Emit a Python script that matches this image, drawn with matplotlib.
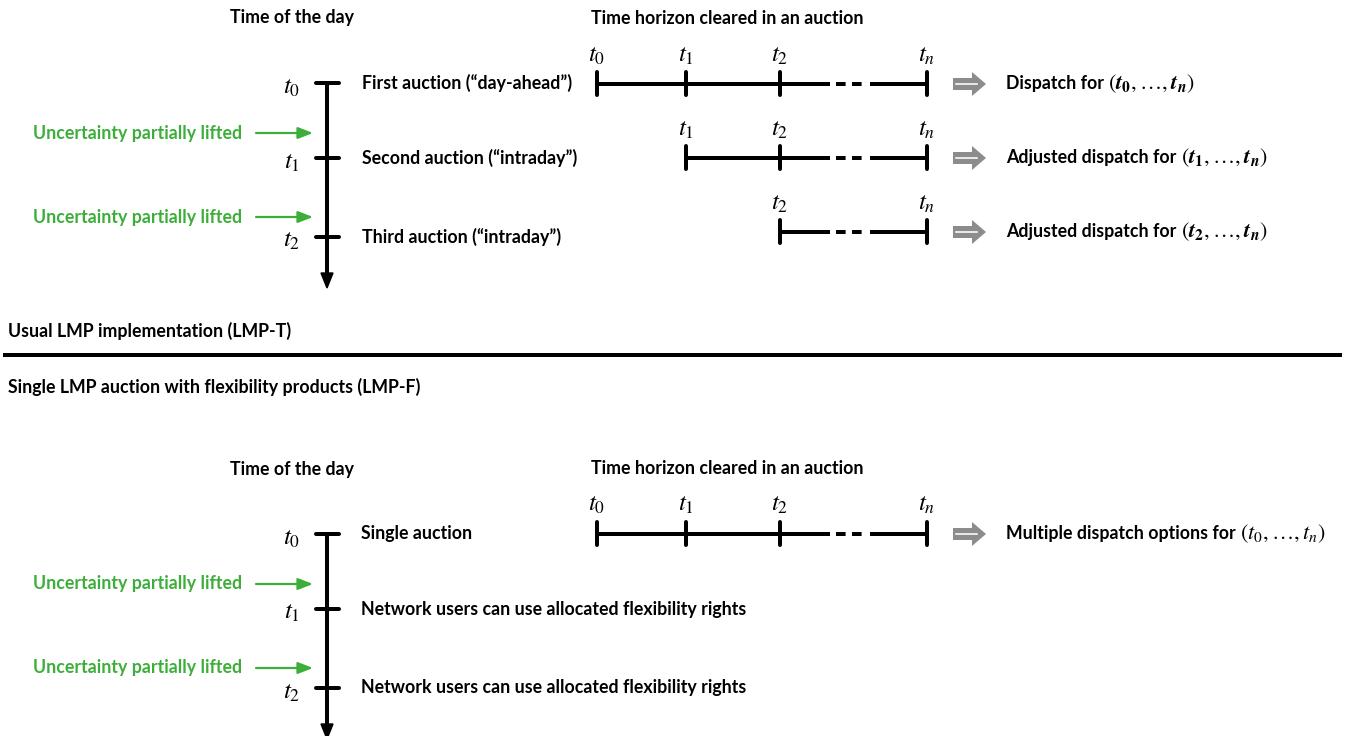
import matplotlib
matplotlib.use("Agg")
import matplotlib.pyplot as plt
from matplotlib.patches import Polygon

plt.rcParams["font.family"] = ["Lato", "DejaVu Sans"]
plt.rcParams["mathtext.fontset"] = "stix"

# Textos e rótulos do diagrama
cabecalho_dia = "Time of the day"
cabecalho_horizonte = "Time horizon cleared in an auction"
incerteza = "Uncertainty partially lifted"
rotulos_t = ["$t_0$", "$t_1$", "$t_2$"]
rotulos_barra = ["$t_0$", "$t_1$", "$t_2$", "$t_n$"]

leiloes_t = ["First auction (\u201cday-ahead\u201d)",
             "Second auction (\u201cintraday\u201d)",
             "Third auction (\u201cintraday\u201d)"]
inicio_t = [0, 1, 2]
despacho_t = ["Dispatch for", "Adjusted dispatch for", "Adjusted dispatch for"]
despacho_mat_t = [r"$(\mathbfit{t}_{\mathbf{0}},\ldots,\mathbfit{t}_{\mathbfit{n}})$",
                  r"$(\mathbfit{t}_{\mathbf{1}},\ldots,\mathbfit{t}_{\mathbfit{n}})$",
                  r"$(\mathbfit{t}_{\mathbf{2}},\ldots,\mathbfit{t}_{\mathbfit{n}})$"]

leiloes_f = ["Single auction",
             "Network users can use allocated flexibility rights",
             "Network users can use allocated flexibility rights"]
despacho_f = "Multiple dispatch options for"
despacho_mat_f = r"$(t_0,\ldots,t_n)$"

titulo_t = "Usual LMP implementation (LMP-T)"
titulo_f = "Single LMP auction with flexibility products (LMP-F)"

# Layout (pixels)
W, H = 1347, 736
x_linha = 327
y_ticks = [83, 158, 237]
y_incerteza = [133, 217]
x_barra = [597, 686, 780, 927]
y_barra = [84, 158, 232]
desloc = 451
verde = "#3dae3a"
cinza = "#8c8c8c"
px = 0.72  # 1 px em pontos a 100 dpi

fig = plt.figure(figsize=(W / 100, H / 100), dpi=100)
ax = fig.add_axes([0, 0, 1, 1])
ax.set_xlim(0, W)
ax.set_ylim(H, 0)
ax.axis("off")

fs = 12.8
fs_t = 18
fs_m = 16


def linha_tempo(dy, fim):
    ax.plot([x_linha, x_linha], [y_ticks[0] + dy, fim - 13], color="black", lw=4 * px,
            solid_capstyle="butt")
    ax.add_patch(Polygon([[x_linha - 6, fim - 15], [x_linha + 6, fim - 15], [x_linha, fim]],
                         closed=True, color="black"))
    for y, lab in zip(y_ticks, rotulos_t):
        ax.plot([x_linha - 11, x_linha + 12], [y + dy, y + dy], color="black", lw=4 * px,
                solid_capstyle="round")
        ax.text(x_linha - 35, y + dy + 4, lab, fontsize=fs_t, ha="center", va="center")
    for y in y_incerteza:
        ax.annotate("", xy=(x_linha - 14, y + dy), xytext=(x_linha - 71, y + dy),
                    arrowprops=dict(arrowstyle="-|>,head_length=0.9,head_width=0.35",
                                    color=verde, lw=2.2 * px, shrinkA=0, shrinkB=0))
        ax.text(x_linha - 85, y + dy, incerteza, fontsize=fs, fontweight="bold",
                color=verde, ha="right", va="center")
    ax.text(292, 18 + dy, cabecalho_dia, fontsize=fs, fontweight="bold", ha="center", va="center")
    ax.text(591, 18 + dy, cabecalho_horizonte, fontsize=fs, fontweight="bold",
            ha="left", va="center")


def barra(y, inicio):
    xs = x_barra[inicio:]
    ax.plot([xs[0], 830], [y, y], color="black", lw=4 * px, solid_capstyle="butt")
    ax.plot([836, 864], [y, y], color="black", lw=4 * px, dashes=(2.4, 1.6),
            solid_capstyle="butt")
    ax.plot([870, xs[-1]], [y, y], color="black", lw=4 * px, solid_capstyle="butt")
    for x, lab in zip(xs, rotulos_barra[inicio:]):
        ax.plot([x, x], [y - 12, y + 11], color="black", lw=4 * px, solid_capstyle="round")
        ax.text(x, y - 29, lab, fontsize=fs_t, ha="center", va="center")


def seta_cinza(y):
    ax.add_patch(Polygon([[953, y - 6], [972, y - 6], [972, y - 12], [986, y],
                          [972, y + 12], [972, y + 6], [953, y + 6]],
                         closed=True, color=cinza, lw=0))
    ax.plot([956, 977], [y, y], color="white", lw=1.6 * px)


def despacho(y, texto, mat):
    t = ax.text(1006, y, texto, fontsize=fs, fontweight="bold", ha="left", va="center")
    ax.annotate(mat, xy=(1, 0.5), xycoords=t, xytext=(3, 0), textcoords="offset points",
                fontsize=fs_m, ha="left", va="center")


# Parte superior: LMP-T
linha_tempo(0, 288)
for i in range(3):
    ax.text(362, y_ticks[i], leiloes_t[i], fontsize=fs, fontweight="bold", ha="left",
            va="center")
    barra(y_barra[i], inicio_t[i])
    seta_cinza(y_barra[i])
    despacho(y_barra[i], despacho_t[i], despacho_mat_t[i])

# Separador
ax.text(8, 331, titulo_t, fontsize=fs, fontweight="bold", ha="left", va="center")
ax.plot([5, 1340], [355, 355], color="black", lw=4 * px)
ax.text(8, 387, titulo_f, fontsize=fs, fontweight="bold", ha="left", va="center")

# Parte inferior: LMP-F
linha_tempo(desloc, 288 + desloc)
for i in range(3):
    ax.text(361, y_ticks[i] + desloc, leiloes_f[i], fontsize=fs, fontweight="bold",
            ha="left", va="center")
barra(y_barra[0] + desloc - 1, 0)
seta_cinza(y_barra[0] + desloc - 1)
despacho(y_barra[0] + desloc - 1, despacho_f, despacho_mat_f)

fig.savefig("out.png", dpi=100)
plt.close(fig)
